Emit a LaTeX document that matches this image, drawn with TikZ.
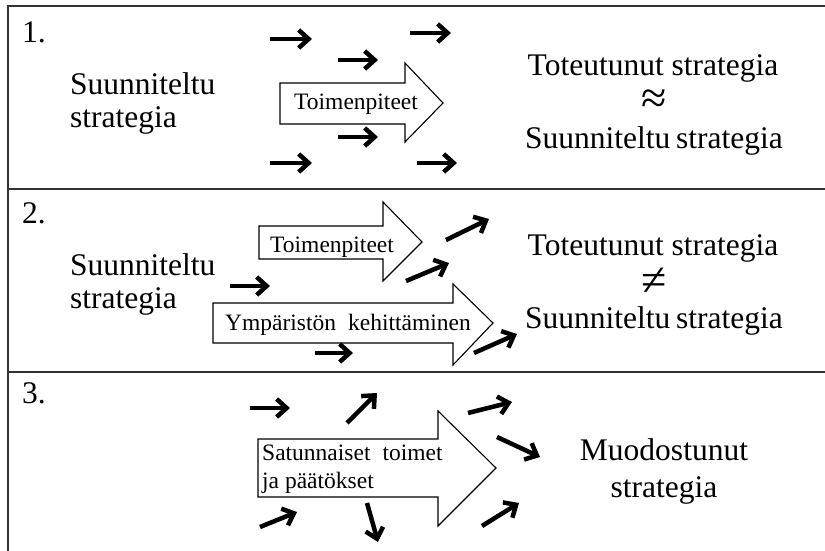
\documentclass[tikz,border=0pt]{standalone}
\usepackage{fontspec}
\setmainfont{Liberation Serif}
\usetikzlibrary{arrows.meta}
\begin{document}
\begin{tikzpicture}[x=1pt,y=-1pt,
  big/.style={font=\fontsize{31.5}{36}\selectfont, inner sep=0, anchor=base},
  leftt/.style={font=\fontsize{31.5}{36}\selectfont, inner sep=0, anchor=base west},
  sym/.style={font=\fontsize{46}{50}\selectfont, inner sep=0, anchor=center},
  lbl/.style={font=\fontsize{23.5}{28}\selectfont, inner sep=0, anchor=base west},
  frame/.style={draw=black!80, line width=2pt},
  block/.style={draw=black, line width=1.1pt, fill=white, line join=miter},
  small/.style={line width=4.5pt, -{Straight Barb[length=10pt,width=18pt]}}
]
\useasboundingbox (0,0) rectangle (825,551);
% frame
\draw[frame] (825,6) -- (8,6) -- (8,551);
\draw[frame] (8,189) -- (825,189);
\draw[frame] (8,372) -- (825,372);

% ---------- panel 1 ----------
\node[leftt] (n1) at (22,43) {1.};
\node[leftt] (s1a) at (70,95) {Suunniteltu};
\node[leftt] (s1b) at (70,128) {strategia};
\draw[block] (280,83) -- (405,83) -- (405,63) -- (443,103) -- (405,142) -- (405,124) -- (280,124) -- cycle;
\node[lbl] (t1) at (294,110) {Toimenpiteet};
\draw[small] (270,39) -- (312,39);
\draw[small] (338,60) -- (378,60);
\draw[small] (410,33) -- (451,33);
\draw[small] (338,137) -- (378,137);
\draw[small] (270,163) -- (312,163);
\draw[small] (417,163) -- (457,163);
\node[big] (r1a) at (653,75) {Toteutunut strategia};
\node[sym] (r1b) at (654,102) {≈};
\node[big] (r1c) at (654,148) {Suunniteltu\hspace{-2pt} strategia};

% ---------- panel 2 ----------
\node[leftt] (n2) at (22,223) {2.};
\node[leftt] (s2a) at (70,275) {Suunniteltu};
\node[leftt] (s2b) at (70,308) {strategia};
\draw[block] (259,226) -- (383,226) -- (383,202) -- (422,242) -- (383,281) -- (383,259) -- (259,259) -- cycle;
\node[lbl] (t2) at (270,252) {Toimenpiteet};
\draw[block] (213,303) -- (453,303) -- (453,284) -- (493,323) -- (453,365) -- (453,343) -- (213,343) -- cycle;
\node[lbl] (y2) at (225,330) {Ympäristön\hspace{12pt}kehittäminen};
\draw[small] (230,286) -- (270,286);
\draw[small] (315,353) -- (353,353);
\draw[small] (446,240) -- (489,219);
\draw[small] (406,281) -- (449,263);
\draw[small] (474,353) -- (517,334);
\node[big] (r2a) at (653,255) {Toteutunut strategia};
\node[sym] (r2b) at (654,282) {≠};
\node[big] (r2c) at (654,328) {Suunniteltu\hspace{-2pt} strategia};

% ---------- panel 3 ----------
\node[leftt] (n3) at (22,403) {3.};
\draw[block] (258,439) -- (438,439) -- (438,411) -- (496,468) -- (438,526) -- (438,497) -- (258,497) -- cycle;
\node[lbl] (sa3) at (262,460) {Satunnaiset\hspace{12pt}toimet};
\node[lbl] (sb3) at (262,488) {ja päätökset};
\draw[small] (250,408) -- (290,408);
\draw[small] (347,423) -- (377,393);
\draw[small] (468,413) -- (512,402);
\draw[small] (497,437) -- (540,457);
\draw[small] (482,526) -- (519,503);
\draw[small] (260,527) -- (297,512);
\draw[small] (367,503) -- (378,542);
\node[big] (m3a) at (664,460) {Muodostunut};
\node[big] (m3b) at (664,497) {strategia};
\end{tikzpicture}
\end{document}
